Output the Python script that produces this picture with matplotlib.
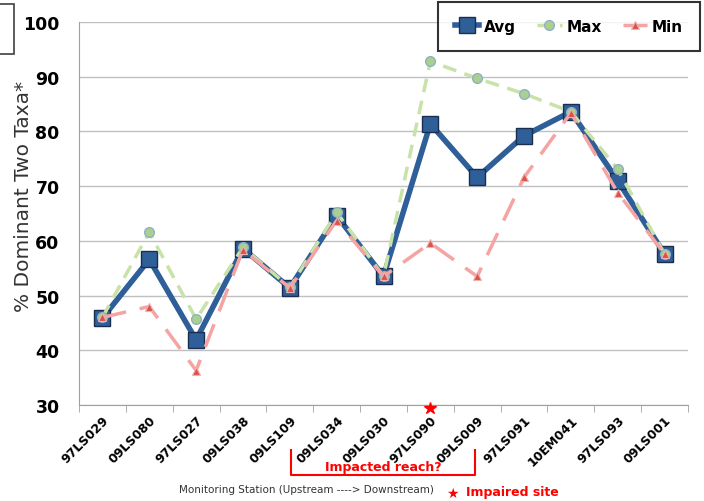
import matplotlib
matplotlib.use("Agg")
import matplotlib.pyplot as plt
from matplotlib.patches import Rectangle
from matplotlib.lines import Line2D

stations = ["97LS029", "09LS080", "97LS027", "09LS038", "09LS109", "09LS034", "09LS030",
            "97LS090", "09LS009", "97LS091", "10EM041", "97LS093", "09LS001"]
avg_vals = [45.9, 56.6, 41.9, 58.6, 51.4, 64.6, 53.5, 81.4, 71.6, 79.2, 83.6, 71.0, 57.6]
max_vals = [46.0, 61.6, 45.7, 58.8, 51.5, 65.2, 53.5, 92.8, 89.7, 86.9, 83.6, 73.1, 57.6]
min_vals = [46.0, 48.0, 36.3, 58.4, 51.4, 63.7, 53.5, 59.6, 53.5, 71.6, 83.4, 68.8, 57.6]
yticks = [30, 40, 50, 60, 70, 80, 90, 100]
impaired_station = "97LS090"

fig = plt.figure(figsize=(7.04, 5.02), dpi=100)
ax = fig.add_axes([79/704, 1-406/502, (688-79)/704, (406-23)/502])
x = list(range(len(stations)))

l_avg, = ax.plot(x, avg_vals, color="#2F5F98", lw=4, marker="s", ms=11,
                 mfc="#2F5F98", mec="#1A2F4F", mew=1, zorder=3, label="Avg")
l_max, = ax.plot(x, max_vals, color="#C8E2A8", lw=2.5, ls=(0, (4, 2.5)), marker="o", ms=7,
                 mfc="#A9D18E", mec="#8FB0C8", mew=1, zorder=4, label="Max")
l_min, = ax.plot(x, min_vals, color="#F5A3A3", lw=2.5, ls=(0, (7, 4)), marker="^", ms=6,
                 mfc="#D9534A", mec="#F0B0B0", mew=0.8, zorder=5, label="Min")

ax.set_xlim(-0.5, len(stations) - 0.5)
ax.set_ylim(30, 100)
ax.set_yticks(yticks)
ax.set_yticklabels([str(t) for t in yticks], fontsize=12.5, fontweight="bold")
ax.yaxis.grid(True, color="#C0C0C0", lw=1)
ax.set_axisbelow(True)
ax.tick_params(axis="y", length=0, pad=14)
ax.set_xticks(x)
ax.set_xticklabels(stations, rotation=45, ha="right", rotation_mode="anchor",
                   fontsize=9, fontweight="bold")
ax.tick_params(axis="x", length=0, pad=6)
ax.set_xticks([i - 0.5 for i in range(len(stations) + 1)], minor=True)
ax.tick_params(axis="x", which="minor", length=5, color="#A0A0A0")
for s in ["top", "right"]:
    ax.spines[s].set_visible(False)
ax.spines["left"].set_color("#A0A0A0")
ax.spines["bottom"].set_color("#A0A0A0")
ax.set_ylabel("% Dominant Two Taxa*", fontsize=14.5, color="#333333")
ax.yaxis.set_label_coords((33-79)/609, (406-196)/383)

# impaired star
ax.plot([stations.index(impaired_station)], [29.4], marker="*", color="red", ms=9,
        clip_on=False, zorder=6)

# bracket for impacted reach
x0 = 291/704; x1 = 475/704; yt = 1-451/502; yb = 1-476/502
fig.add_artist(Line2D([x0, x0, x1, x1], [yt, yb, yb, yt], color="red", lw=1.5,
                      transform=fig.transFigure))
fig.text((x0 + x1) / 2, 1-468/502, "Impacted reach?", color="red", fontsize=9,
         fontweight="bold", ha="center", va="center")
fig.text(306/704, 1-490/502, "Monitoring Station (Upstream ----> Downstream)",
         fontsize=7.5, color="#333333", ha="center", va="center")
fig.text(452/704, 1-494/502, "★", color="red", fontsize=10, ha="center", va="center")
fig.text(466/704, 1-493/502, "Impaired site", color="red", fontsize=9,
         fontweight="bold", ha="left", va="center")

# cropped box on the left
fig.add_artist(Rectangle((-0.02, 1-55/502), 0.02 + 14/704, 50/502, fill=False,
                         edgecolor="#404040", lw=1.2, transform=fig.transFigure))

leg = fig.legend(handles=[l_avg, l_max, l_min], loc="upper right",
                 bbox_to_anchor=(700/704, 1-3/502), ncol=3, fancybox=False,
                 frameon=True, prop={"weight": "bold", "size": 11},
                 handlelength=1.6, columnspacing=1.4, borderpad=1.1, handletextpad=0.3,
                 borderaxespad=0)
leg.get_frame().set_edgecolor("black")
leg.get_frame().set_linewidth(1.5)

fig.savefig("out.png", dpi=100)
